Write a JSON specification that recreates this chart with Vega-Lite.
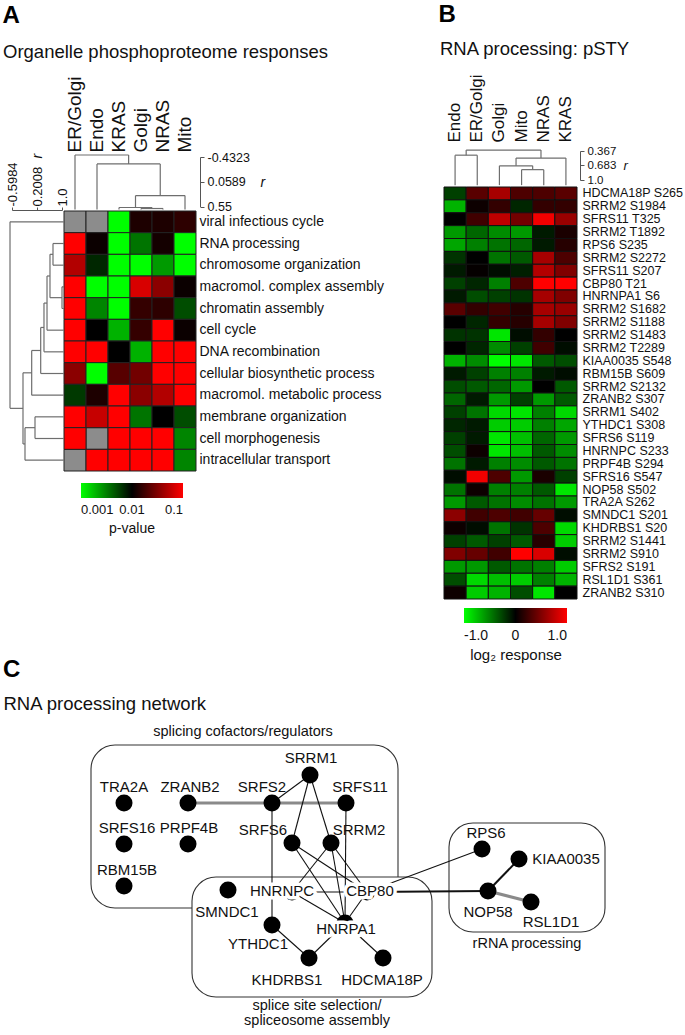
{
"$schema":"https://vega.github.io/schema/vega-lite/v6.json",
"width":685,"height":1035,"autosize":"none","padding":0,"background":"white",
"config":{"view":{"stroke":null},"font":"Liberation Sans",
 "axis":{"grid":false,"labelColor":"#111","titleColor":"#111","domainColor":"#555","tickColor":"#555","labelFlush":false,"labelOverlap":false,"labelBound":false},
 "legend":{"labelColor":"#111","titleColor":"#111"}},
"datasets":{
"heatA":[
{"term":"viral infectious cycle","col":"ER/Golgi","p":null},{"term":"viral infectious cycle","col":"Endo","p":null},{"term":"viral infectious cycle","col":"KRAS","p":0.001},{"term":"viral infectious cycle","col":"Golgi","p":0.013},{"term":"viral infectious cycle","col":"NRAS","p":0.013},{"term":"viral infectious cycle","col":"Mito","p":0.015},
{"term":"RNA processing","col":"ER/Golgi","p":0.1},{"term":"RNA processing","col":"Endo","p":0.011},{"term":"RNA processing","col":"KRAS","p":0.001},{"term":"RNA processing","col":"Golgi","p":0.0035},{"term":"RNA processing","col":"NRAS","p":0.012},{"term":"RNA processing","col":"Mito","p":0.001},
{"term":"chromosome organization","col":"ER/Golgi","p":0.05},{"term":"chromosome organization","col":"Endo","p":0.007},{"term":"chromosome organization","col":"KRAS","p":0.001},{"term":"chromosome organization","col":"Golgi","p":0.001},{"term":"chromosome organization","col":"NRAS","p":0.0025},{"term":"chromosome organization","col":"Mito","p":0.001},
{"term":"macromol. complex assembly","col":"ER/Golgi","p":0.1},{"term":"macromol. complex assembly","col":"Endo","p":0.001},{"term":"macromol. complex assembly","col":"KRAS","p":0.001},{"term":"macromol. complex assembly","col":"Golgi","p":0.07},{"term":"macromol. complex assembly","col":"NRAS","p":0.035},{"term":"macromol. complex assembly","col":"Mito","p":0.011},
{"term":"chromatin assembly","col":"ER/Golgi","p":0.1},{"term":"chromatin assembly","col":"Endo","p":0.003},{"term":"chromatin assembly","col":"KRAS","p":0.001},{"term":"chromatin assembly","col":"Golgi","p":0.016},{"term":"chromatin assembly","col":"NRAS","p":0.015},{"term":"chromatin assembly","col":"Mito","p":0.005},
{"term":"cell cycle","col":"ER/Golgi","p":0.1},{"term":"cell cycle","col":"Endo","p":0.01},{"term":"cell cycle","col":"KRAS","p":0.002},{"term":"cell cycle","col":"Golgi","p":0.016},{"term":"cell cycle","col":"NRAS","p":0.1},{"term":"cell cycle","col":"Mito","p":0.011},
{"term":"DNA recombination","col":"ER/Golgi","p":0.1},{"term":"DNA recombination","col":"Endo","p":0.1},{"term":"DNA recombination","col":"KRAS","p":0.01},{"term":"DNA recombination","col":"Golgi","p":0.002},{"term":"DNA recombination","col":"NRAS","p":0.1},{"term":"DNA recombination","col":"Mito","p":0.1},
{"term":"cellular biosynthetic process","col":"ER/Golgi","p":0.035},{"term":"cellular biosynthetic process","col":"Endo","p":0.001},{"term":"cellular biosynthetic process","col":"KRAS","p":0.022},{"term":"cellular biosynthetic process","col":"Golgi","p":0.028},{"term":"cellular biosynthetic process","col":"NRAS","p":0.1},{"term":"cellular biosynthetic process","col":"Mito","p":0.1},
{"term":"macromol. metabolic process","col":"ER/Golgi","p":0.006},{"term":"macromol. metabolic process","col":"Endo","p":0.013},{"term":"macromol. metabolic process","col":"KRAS","p":0.1},{"term":"macromol. metabolic process","col":"Golgi","p":0.035},{"term":"macromol. metabolic process","col":"NRAS","p":0.05},{"term":"macromol. metabolic process","col":"Mito","p":0.1},
{"term":"membrane organization","col":"ER/Golgi","p":0.1},{"term":"membrane organization","col":"Endo","p":0.06},{"term":"membrane organization","col":"KRAS","p":0.1},{"term":"membrane organization","col":"Golgi","p":0.0035},{"term":"membrane organization","col":"NRAS","p":0.01},{"term":"membrane organization","col":"Mito","p":0.005},
{"term":"cell morphogenesis","col":"ER/Golgi","p":0.1},{"term":"cell morphogenesis","col":"Endo","p":null},{"term":"cell morphogenesis","col":"KRAS","p":0.1},{"term":"cell morphogenesis","col":"Golgi","p":0.1},{"term":"cell morphogenesis","col":"NRAS","p":0.1},{"term":"cell morphogenesis","col":"Mito","p":0.003},
{"term":"intracellular transport","col":"ER/Golgi","p":null},{"term":"intracellular transport","col":"Endo","p":0.1},{"term":"intracellular transport","col":"KRAS","p":0.1},{"term":"intracellular transport","col":"Golgi","p":0.1},{"term":"intracellular transport","col":"NRAS","p":0.1},{"term":"intracellular transport","col":"Mito","p":0.003}
],
"heatB":[
{"site":"HDCMA18P S265","col":"Endo","v":-0.25},{"site":"HDCMA18P S265","col":"ER/Golgi","v":0.35},{"site":"HDCMA18P S265","col":"Golgi","v":0.65},{"site":"HDCMA18P S265","col":"Mito","v":0.3},{"site":"HDCMA18P S265","col":"NRAS","v":0.3},{"site":"HDCMA18P S265","col":"KRAS","v":0.35},
{"site":"SRRM2 S1984","col":"Endo","v":-0.7},{"site":"SRRM2 S1984","col":"ER/Golgi","v":0.05},{"site":"SRRM2 S1984","col":"Golgi","v":0.2},{"site":"SRRM2 S1984","col":"Mito","v":-0.15},{"site":"SRRM2 S1984","col":"NRAS","v":0.2},{"site":"SRRM2 S1984","col":"KRAS","v":0.2},
{"site":"SFRS11 T325","col":"Endo","v":0},{"site":"SFRS11 T325","col":"ER/Golgi","v":0.25},{"site":"SFRS11 T325","col":"Golgi","v":0.75},{"site":"SFRS11 T325","col":"Mito","v":0.45},{"site":"SFRS11 T325","col":"NRAS","v":0.95},{"site":"SFRS11 T325","col":"KRAS","v":0.6},
{"site":"SRRM2 T1892","col":"Endo","v":-0.6},{"site":"SRRM2 T1892","col":"ER/Golgi","v":-0.4},{"site":"SRRM2 T1892","col":"Golgi","v":-0.55},{"site":"SRRM2 T1892","col":"Mito","v":-0.6},{"site":"SRRM2 T1892","col":"NRAS","v":-0.1},{"site":"SRRM2 T1892","col":"KRAS","v":0.1},
{"site":"RPS6 S235","col":"Endo","v":-0.65},{"site":"RPS6 S235","col":"ER/Golgi","v":-0.5},{"site":"RPS6 S235","col":"Golgi","v":-0.45},{"site":"RPS6 S235","col":"Mito","v":-0.4},{"site":"RPS6 S235","col":"NRAS","v":-0.1},{"site":"RPS6 S235","col":"KRAS","v":0.15},
{"site":"SRRM2 S2272","col":"Endo","v":-0.2},{"site":"SRRM2 S2272","col":"ER/Golgi","v":0},{"site":"SRRM2 S2272","col":"Golgi","v":-0.45},{"site":"SRRM2 S2272","col":"Mito","v":-0.35},{"site":"SRRM2 S2272","col":"NRAS","v":0.65},{"site":"SRRM2 S2272","col":"KRAS","v":0.3},
{"site":"SFRS11 S207","col":"Endo","v":-0.1},{"site":"SFRS11 S207","col":"ER/Golgi","v":0.02},{"site":"SFRS11 S207","col":"Golgi","v":-0.05},{"site":"SFRS11 S207","col":"Mito","v":-0.12},{"site":"SFRS11 S207","col":"NRAS","v":0.7},{"site":"SFRS11 S207","col":"KRAS","v":0.5},
{"site":"CBP80 T21","col":"Endo","v":-0.25},{"site":"CBP80 T21","col":"ER/Golgi","v":-0.15},{"site":"CBP80 T21","col":"Golgi","v":-0.5},{"site":"CBP80 T21","col":"Mito","v":0.3},{"site":"CBP80 T21","col":"NRAS","v":1},{"site":"CBP80 T21","col":"KRAS","v":1},
{"site":"HNRNPA1 S6","col":"Endo","v":-0.1},{"site":"HNRNPA1 S6","col":"ER/Golgi","v":-0.3},{"site":"HNRNPA1 S6","col":"Golgi","v":-0.25},{"site":"HNRNPA1 S6","col":"Mito","v":-0.2},{"site":"HNRNPA1 S6","col":"NRAS","v":0.65},{"site":"HNRNPA1 S6","col":"KRAS","v":0.5},
{"site":"SRRM2 S1682","col":"Endo","v":0.35},{"site":"SRRM2 S1682","col":"ER/Golgi","v":0.2},{"site":"SRRM2 S1682","col":"Golgi","v":0.25},{"site":"SRRM2 S1682","col":"Mito","v":0.15},{"site":"SRRM2 S1682","col":"NRAS","v":0.65},{"site":"SRRM2 S1682","col":"KRAS","v":0.6},
{"site":"SRRM2 S1188","col":"Endo","v":0},{"site":"SRRM2 S1188","col":"ER/Golgi","v":-0.15},{"site":"SRRM2 S1188","col":"Golgi","v":0.2},{"site":"SRRM2 S1188","col":"Mito","v":0.15},{"site":"SRRM2 S1188","col":"NRAS","v":0.65},{"site":"SRRM2 S1188","col":"KRAS","v":0.5},
{"site":"SRRM2 S1483","col":"Endo","v":-0.2},{"site":"SRRM2 S1483","col":"ER/Golgi","v":-0.2},{"site":"SRRM2 S1483","col":"Golgi","v":-0.9},{"site":"SRRM2 S1483","col":"Mito","v":-0.05},{"site":"SRRM2 S1483","col":"NRAS","v":0.2},{"site":"SRRM2 S1483","col":"KRAS","v":0},
{"site":"SRRM2 T2289","col":"Endo","v":0},{"site":"SRRM2 T2289","col":"ER/Golgi","v":-0.15},{"site":"SRRM2 T2289","col":"Golgi","v":-0.55},{"site":"SRRM2 T2289","col":"Mito","v":-0.25},{"site":"SRRM2 T2289","col":"NRAS","v":0.25},{"site":"SRRM2 T2289","col":"KRAS","v":-0.05},
{"site":"KIAA0035 S548","col":"Endo","v":-0.7},{"site":"KIAA0035 S548","col":"ER/Golgi","v":-0.55},{"site":"KIAA0035 S548","col":"Golgi","v":-1},{"site":"KIAA0035 S548","col":"Mito","v":-0.9},{"site":"KIAA0035 S548","col":"NRAS","v":-0.35},{"site":"KIAA0035 S548","col":"KRAS","v":-0.3},
{"site":"RBM15B S609","col":"Endo","v":-0.1},{"site":"RBM15B S609","col":"ER/Golgi","v":-0.25},{"site":"RBM15B S609","col":"Golgi","v":-0.5},{"site":"RBM15B S609","col":"Mito","v":-0.5},{"site":"RBM15B S609","col":"NRAS","v":-0.1},{"site":"RBM15B S609","col":"KRAS","v":-0.05},
{"site":"SRRM2 S2132","col":"Endo","v":-0.3},{"site":"SRRM2 S2132","col":"ER/Golgi","v":-0.35},{"site":"SRRM2 S2132","col":"Golgi","v":-0.4},{"site":"SRRM2 S2132","col":"Mito","v":-0.6},{"site":"SRRM2 S2132","col":"NRAS","v":0},{"site":"SRRM2 S2132","col":"KRAS","v":-0.35},
{"site":"ZRANB2 S307","col":"Endo","v":-0.4},{"site":"ZRANB2 S307","col":"ER/Golgi","v":-0.1},{"site":"ZRANB2 S307","col":"Golgi","v":-0.6},{"site":"ZRANB2 S307","col":"Mito","v":-0.25},{"site":"ZRANB2 S307","col":"NRAS","v":-0.6},{"site":"ZRANB2 S307","col":"KRAS","v":-0.35},
{"site":"SRRM1 S402","col":"Endo","v":-0.25},{"site":"SRRM1 S402","col":"ER/Golgi","v":-0.45},{"site":"SRRM1 S402","col":"Golgi","v":-0.85},{"site":"SRRM1 S402","col":"Mito","v":-0.9},{"site":"SRRM1 S402","col":"NRAS","v":-0.5},{"site":"SRRM1 S402","col":"KRAS","v":-0.85},
{"site":"YTHDC1 S308","col":"Endo","v":-0.15},{"site":"YTHDC1 S308","col":"ER/Golgi","v":-0.1},{"site":"YTHDC1 S308","col":"Golgi","v":-0.8},{"site":"YTHDC1 S308","col":"Mito","v":-0.8},{"site":"YTHDC1 S308","col":"NRAS","v":-0.5},{"site":"YTHDC1 S308","col":"KRAS","v":-0.65},
{"site":"SFRS6 S119","col":"Endo","v":-0.25},{"site":"SFRS6 S119","col":"ER/Golgi","v":-0.1},{"site":"SFRS6 S119","col":"Golgi","v":-0.9},{"site":"SFRS6 S119","col":"Mito","v":-0.75},{"site":"SFRS6 S119","col":"NRAS","v":-0.4},{"site":"SFRS6 S119","col":"KRAS","v":-0.6},
{"site":"HNRNPC S233","col":"Endo","v":-0.3},{"site":"HNRNPC S233","col":"ER/Golgi","v":0.05},{"site":"HNRNPC S233","col":"Golgi","v":-0.9},{"site":"HNRNPC S233","col":"Mito","v":-0.75},{"site":"HNRNPC S233","col":"NRAS","v":-0.35},{"site":"HNRNPC S233","col":"KRAS","v":-0.55},
{"site":"PRPF4B S294","col":"Endo","v":-0.45},{"site":"PRPF4B S294","col":"ER/Golgi","v":-0.1},{"site":"PRPF4B S294","col":"Golgi","v":-0.5},{"site":"PRPF4B S294","col":"Mito","v":-0.55},{"site":"PRPF4B S294","col":"NRAS","v":-0.35},{"site":"PRPF4B S294","col":"KRAS","v":-0.45},
{"site":"SFRS16 S547","col":"Endo","v":-0.05},{"site":"SFRS16 S547","col":"ER/Golgi","v":0.95},{"site":"SFRS16 S547","col":"Golgi","v":0.3},{"site":"SFRS16 S547","col":"Mito","v":-0.6},{"site":"SFRS16 S547","col":"NRAS","v":0.1},{"site":"SFRS16 S547","col":"KRAS","v":-0.25},
{"site":"NOP58 S502","col":"Endo","v":-0.45},{"site":"NOP58 S502","col":"ER/Golgi","v":0.05},{"site":"NOP58 S502","col":"Golgi","v":-0.5},{"site":"NOP58 S502","col":"Mito","v":-0.5},{"site":"NOP58 S502","col":"NRAS","v":-0.35},{"site":"NOP58 S502","col":"KRAS","v":-0.9},
{"site":"TRA2A S262","col":"Endo","v":-0.6},{"site":"TRA2A S262","col":"ER/Golgi","v":-0.35},{"site":"TRA2A S262","col":"Golgi","v":-0.45},{"site":"TRA2A S262","col":"Mito","v":-0.55},{"site":"TRA2A S262","col":"NRAS","v":-0.45},{"site":"TRA2A S262","col":"KRAS","v":-0.6},
{"site":"SMNDC1 S201","col":"Endo","v":0.55},{"site":"SMNDC1 S201","col":"ER/Golgi","v":0.25},{"site":"SMNDC1 S201","col":"Golgi","v":0.3},{"site":"SMNDC1 S201","col":"Mito","v":0.25},{"site":"SMNDC1 S201","col":"NRAS","v":0.4},{"site":"SMNDC1 S201","col":"KRAS","v":-0.05},
{"site":"KHDRBS1 S20","col":"Endo","v":0.05},{"site":"KHDRBS1 S20","col":"ER/Golgi","v":-0.05},{"site":"KHDRBS1 S20","col":"Golgi","v":-0.45},{"site":"KHDRBS1 S20","col":"Mito","v":-0.2},{"site":"KHDRBS1 S20","col":"NRAS","v":0.3},{"site":"KHDRBS1 S20","col":"KRAS","v":-0.85},
{"site":"SRRM2 S1441","col":"Endo","v":-0.25},{"site":"SRRM2 S1441","col":"ER/Golgi","v":-0.35},{"site":"SRRM2 S1441","col":"Golgi","v":-0.25},{"site":"SRRM2 S1441","col":"Mito","v":-0.35},{"site":"SRRM2 S1441","col":"NRAS","v":0.15},{"site":"SRRM2 S1441","col":"KRAS","v":-0.8},
{"site":"SRRM2 S910","col":"Endo","v":0.5},{"site":"SRRM2 S910","col":"ER/Golgi","v":0.4},{"site":"SRRM2 S910","col":"Golgi","v":0.25},{"site":"SRRM2 S910","col":"Mito","v":1},{"site":"SRRM2 S910","col":"NRAS","v":0.85},{"site":"SRRM2 S910","col":"KRAS","v":-0.05},
{"site":"SFRS2 S191","col":"Endo","v":-0.6},{"site":"SFRS2 S191","col":"ER/Golgi","v":-0.6},{"site":"SFRS2 S191","col":"Golgi","v":-0.35},{"site":"SFRS2 S191","col":"Mito","v":-0.45},{"site":"SFRS2 S191","col":"NRAS","v":-0.5},{"site":"SFRS2 S191","col":"KRAS","v":-0.8},
{"site":"RSL1D1 S361","col":"Endo","v":-0.3},{"site":"RSL1D1 S361","col":"ER/Golgi","v":-0.85},{"site":"RSL1D1 S361","col":"Golgi","v":-0.75},{"site":"RSL1D1 S361","col":"Mito","v":-0.8},{"site":"RSL1D1 S361","col":"NRAS","v":-0.5},{"site":"RSL1D1 S361","col":"KRAS","v":-0.7},
{"site":"ZRANB2 S310","col":"Endo","v":0.05},{"site":"ZRANB2 S310","col":"ER/Golgi","v":-0.8},{"site":"ZRANB2 S310","col":"Golgi","v":-0.7},{"site":"ZRANB2 S310","col":"Mito","v":-0.3},{"site":"ZRANB2 S310","col":"NRAS","v":-0.9},{"site":"ZRANB2 S310","col":"KRAS","v":0}
],
"colDendA":[
{"p1":3,"p2":3,"h1":0.609,"h2":0.59},{"p1":4,"p2":4,"h1":0.609,"h2":0.59},{"p1":3,"p2":4,"h1":0.59,"h2":0.59},
{"p1":2,"p2":2,"h1":0.609,"h2":0.57},{"p1":3.5,"p2":3.5,"h1":0.59,"h2":0.57},{"p1":2,"p2":3.5,"h1":0.57,"h2":0.57},
{"p1":2.75,"p2":2.75,"h1":0.57,"h2":0.334},{"p1":5,"p2":5,"h1":0.609,"h2":0.334},{"p1":2.75,"p2":5,"h1":0.334,"h2":0.334},
{"p1":1,"p2":1,"h1":0.609,"h2":-0.295},{"p1":3.875,"p2":3.875,"h1":0.334,"h2":-0.295},{"p1":1,"p2":3.875,"h1":-0.295,"h2":-0.295},
{"p1":0,"p2":0,"h1":0.609,"h2":-0.472},{"p1":2.4375,"p2":2.4375,"h1":-0.295,"h2":-0.472},{"p1":0,"p2":2.4375,"h1":-0.472,"h2":-0.472}
],
"colDendB":[
{"p1":3,"p2":3,"h1":1.112,"h2":0.774},{"p1":4,"p2":4,"h1":1.112,"h2":0.774},{"p1":3,"p2":4,"h1":0.774,"h2":0.774},
{"p1":2,"p2":2,"h1":1.112,"h2":0.69},{"p1":3.5,"p2":3.5,"h1":0.774,"h2":0.69},{"p1":2,"p2":3.5,"h1":0.69,"h2":0.69},
{"p1":2.75,"p2":2.75,"h1":0.69,"h2":0.521},{"p1":5,"p2":5,"h1":1.112,"h2":0.521},{"p1":2.75,"p2":5,"h1":0.521,"h2":0.521},
{"p1":0,"p2":0,"h1":1.112,"h2":0.458},{"p1":1,"p2":1,"h1":1.112,"h2":0.458},{"p1":0,"p2":1,"h1":0.458,"h2":0.458},
{"p1":0.5,"p2":0.5,"h1":0.458,"h2":0.346},{"p1":3.875,"p2":3.875,"h1":0.521,"h2":0.346},{"p1":0.5,"p2":3.875,"h1":0.346,"h2":0.346}
],
"rowDendA":[
{"h1":1.06,"h2":1.0,"p1":3,"p2":3},{"h1":1.06,"h2":1.0,"p1":4,"p2":4},{"h1":1.0,"h2":1.0,"p1":3,"p2":4},
{"h1":1.06,"h2":0.712,"p1":1,"p2":1},{"h1":1.06,"h2":0.712,"p1":2,"p2":2},{"h1":0.712,"h2":0.712,"p1":1,"p2":2},
{"h1":0.712,"h2":0.616,"p1":1.5,"p2":1.5},{"h1":1.0,"h2":0.616,"p1":3.5,"p2":3.5},{"h1":0.616,"h2":0.616,"p1":1.5,"p2":3.5},
{"h1":0.616,"h2":0.521,"p1":2.5,"p2":2.5},{"h1":1.06,"h2":0.521,"p1":5,"p2":5},{"h1":0.521,"h2":0.521,"p1":2.5,"p2":5},
{"h1":0.521,"h2":0.424,"p1":3.75,"p2":3.75},{"h1":1.06,"h2":0.424,"p1":6,"p2":6},{"h1":0.424,"h2":0.424,"p1":3.75,"p2":6},
{"h1":0.424,"h2":0.319,"p1":4.875,"p2":4.875},{"h1":1.06,"h2":0.319,"p1":7,"p2":7},{"h1":0.319,"h2":0.319,"p1":4.875,"p2":7},
{"h1":0.319,"h2":0.031,"p1":5.9375,"p2":5.9375},{"h1":1.06,"h2":0.031,"p1":8,"p2":8},{"h1":0.031,"h2":0.031,"p1":5.9375,"p2":8},
{"h1":1.06,"h2":0.137,"p1":9,"p2":9},{"h1":1.06,"h2":0.137,"p1":10,"p2":10},{"h1":0.137,"h2":0.137,"p1":9,"p2":10},
{"h1":0.137,"h2":-0.183,"p1":9.5,"p2":9.5},{"h1":1.06,"h2":-0.183,"p1":11,"p2":11},{"h1":-0.183,"h2":-0.183,"p1":9.5,"p2":11},
{"h1":0.031,"h2":-0.247,"p1":6.96875,"p2":6.96875},{"h1":-0.183,"h2":-0.247,"p1":10.25,"p2":10.25},{"h1":-0.247,"h2":-0.247,"p1":6.96875,"p2":10.25},
{"h1":1.06,"h2":-0.662,"p1":0,"p2":0},{"h1":-0.247,"h2":-0.662,"p1":8.609,"p2":8.609},{"h1":-0.662,"h2":-0.662,"p1":0,"p2":8.609}
],
"nodes":[
{"name":"SRRM1","nx":31.0,"ny":77.5,"lx":31.1,"ly":75.8},
{"name":"TRA2A","nx":12.4,"ny":80.3,"lx":12.4,"ly":78.7},
{"name":"ZRANB2","nx":18.8,"ny":80.3,"lx":19.0,"ly":78.7},
{"name":"SRFS2","nx":27.2,"ny":80.3,"lx":26.2,"ly":78.7},
{"name":"SRFS11","nx":34.6,"ny":80.3,"lx":36.0,"ly":78.7},
{"name":"SRFS16","nx":12.4,"ny":84.4,"lx":12.7,"ly":82.8},
{"name":"PRPF4B","nx":18.8,"ny":84.4,"lx":18.9,"ly":82.8},
{"name":"SRFS6","nx":29.2,"ny":84.3,"lx":26.3,"ly":83.0},
{"name":"SRRM2","nx":33.1,"ny":84.3,"lx":35.9,"ly":83.0},
{"name":"RBM15B","nx":12.4,"ny":88.6,"lx":12.7,"ly":87.0},
{"name":"SMNDC1","nx":22.8,"ny":89.0,"lx":22.7,"ly":91.2},
{"name":"HNRNPC","nx":29.2,"ny":89.2,"lx":28.2,"ly":89.1},
{"name":"CBP80","nx":36.7,"ny":89.2,"lx":37.0,"ly":89.1},
{"name":"YTHDC1","nx":27.2,"ny":92.5,"lx":25.8,"ly":94.4},
{"name":"HNRPA1","nx":34.5,"ny":92.3,"lx":34.6,"ly":92.9},
{"name":"KHDRBS1","nx":30.9,"ny":95.8,"lx":28.7,"ly":98.0},
{"name":"HDCMA18P","nx":38.3,"ny":95.8,"lx":38.2,"ly":98.0},
{"name":"RPS6","nx":48.2,"ny":84.9,"lx":48.6,"ly":83.3},
{"name":"KIAA0035","nx":51.9,"ny":85.9,"lx":56.6,"ly":85.9},
{"name":"NOP58","nx":48.8,"ny":89.1,"lx":48.8,"ly":91.2},
{"name":"RSL1D1","nx":53.1,"ny":90.2,"lx":55.1,"ly":92.2}
],
"edges":[
{"source":"ZRANB2","target":"SRFS2","evidence":"coexpression"},
{"source":"SRFS2","target":"SRFS11","evidence":"coexpression"},
{"source":"NOP58","target":"RSL1D1","evidence":"coexpression"},
{"source":"CBP80","target":"NOP58","evidence":"database"},
{"source":"NOP58","target":"KIAA0035","evidence":"database"},
{"source":"SRFS2","target":"SRRM1","evidence":"experimental"},
{"source":"SRFS2","target":"YTHDC1","evidence":"experimental"},
{"source":"SRRM1","target":"SRFS6","evidence":"experimental"},
{"source":"SRRM1","target":"SRRM2","evidence":"experimental"},
{"source":"SRFS11","target":"HNRPA1","evidence":"experimental"},
{"source":"SRFS6","target":"CBP80","evidence":"experimental"},
{"source":"SRFS6","target":"HNRPA1","evidence":"experimental"},
{"source":"SRRM2","target":"HNRNPC","evidence":"experimental"},
{"source":"SRRM2","target":"CBP80","evidence":"experimental"},
{"source":"SRRM2","target":"HNRPA1","evidence":"experimental"},
{"source":"HNRNPC","target":"CBP80","evidence":"experimental"},
{"source":"HNRNPC","target":"HNRPA1","evidence":"experimental"},
{"source":"CBP80","target":"HNRPA1","evidence":"experimental"},
{"source":"CBP80","target":"RPS6","evidence":"experimental"},
{"source":"YTHDC1","target":"KHDRBS1","evidence":"experimental"},
{"source":"KHDRBS1","target":"HNRPA1","evidence":"experimental"},
{"source":"HNRPA1","target":"HDCMA18P","evidence":"experimental"}
],
"boxes":[
{"group":"splicing","x1":9.1,"x2":39.8,"y1":74.5,"y2":90.8,"label":"splicing cofactors/regulators","tx":24.3,"ty":73.6},
{"group":"splice site","x1":19.2,"x2":43.2,"y1":87.7,"y2":99.7,"label":"splice site selection/|spliceosome assembly","tx":31.7,"ty":101.0},
{"group":"rRNA","x1":44.9,"x2":60.5,"y1":82.3,"y2":93.2,"label":"rRNA processing","tx":52.7,"ty":94.8}
],
"letters":[
{"text":"A","x":0.25,"y":2.3},{"text":"B","x":43.85,"y":2.2},{"text":"C","x":0.3,"y":67.7}
],
"headings":[
{"text":"Organelle phosphoproteome responses","x":0.3,"y":5.8},
{"text":"RNA processing: pSTY","x":44.0,"y":5.5},
{"text":"RNA processing network","x":0.35,"y":71.0}
]
},
"layer":[
{
 "data":{"name":"heatA"},
 "encoding":{
  "x":{"field":"col","type":"nominal","scale":{"domain":["ER/Golgi","Endo","KRAS","Golgi","NRAS","Mito"],"range":[64,196],"paddingInner":0,"paddingOuter":0},
       "axis":{"orient":"top","offset":-153,"labelAngle":-90,"labelFontSize":19,"labelPadding":1,"domain":false,"ticks":false,"title":null}},
  "y":{"field":"term","type":"nominal","scale":{"domain":["viral infectious cycle","RNA processing","chromosome organization","macromol. complex assembly","chromatin assembly","cell cycle","DNA recombination","cellular biosynthetic process","macromol. metabolic process","membrane organization","cell morphogenesis","intracellular transport"],"range":[211,471],"paddingInner":0,"paddingOuter":0},
       "axis":{"orient":"right","offset":-489,"labelFontSize":14,"labelPadding":3,"labelLimit":0,"domain":false,"ticks":false,"title":null}}
 },
 "layer":[
  {"transform":[{"filter":"datum.p == null"}],"mark":{"type":"rect","fill":"#8c8c8c","stroke":"#222","strokeWidth":1}},
  {"transform":[{"filter":"datum.p != null"}],"mark":{"type":"rect","stroke":"#222","strokeWidth":1},
   "encoding":{"color":{"field":"p","type":"quantitative",
     "scale":{"type":"log","domain":[0.001,0.01,0.1],"range":["#00ff00","#000000","#ff0000"],"interpolate":"rgb","clamp":true},
     "legend":{"orient":"none","legendX":81,"legendY":483,"direction":"horizontal","gradientLength":102,"gradientThickness":15,
       "values":[0.001,0.01,0.1],"labelExpr":"datum.value < 0.005 ? '0.001' : (datum.value < 0.05 ? '0.01' : '0.1')",
       "labelFontSize":13,"labelOffset":6,"title":"p-value","titleOrient":"bottom","titleAnchor":"middle","titleFontSize":14,"titleFontWeight":"normal","titlePadding":5}}}}
 ]
},
{
 "data":{"name":"heatB"},
 "mark":{"type":"rect","stroke":"#111","strokeWidth":1},
 "encoding":{
  "x":{"field":"col","type":"nominal","scale":{"domain":["Endo","ER/Golgi","Golgi","Mito","NRAS","KRAS"],"range":[444,577],"paddingInner":0,"paddingOuter":0},
       "axis":{"orient":"top","offset":-143,"labelAngle":-90,"labelFontSize":17,"labelPadding":1,"domain":false,"ticks":false,"title":null}},
  "y":{"field":"site","type":"nominal","scale":{"domain":["HDCMA18P S265","SRRM2 S1984","SFRS11 T325","SRRM2 T1892","RPS6 S235","SRRM2 S2272","SFRS11 S207","CBP80 T21","HNRNPA1 S6","SRRM2 S1682","SRRM2 S1188","SRRM2 S1483","SRRM2 T2289","KIAA0035 S548","RBM15B S609","SRRM2 S2132","ZRANB2 S307","SRRM1 S402","YTHDC1 S308","SFRS6 S119","HNRNPC S233","PRPF4B S294","SFRS16 S547","NOP58 S502","TRA2A S262","SMNDC1 S201","KHDRBS1 S20","SRRM2 S1441","SRRM2 S910","SFRS2 S191","RSL1D1 S361","ZRANB2 S310"],"range":[187,599],"paddingInner":0,"paddingOuter":0},
       "axis":{"orient":"right","offset":-108,"labelFontSize":12.5,"labelPadding":5,"labelLimit":0,"domain":false,"ticks":false,"title":null}},
  "color":{"field":"v","type":"quantitative",
     "scale":{"domain":[-1,0,1],"range":["#00ff00","#000000","#ff0000"],"interpolate":"rgb","clamp":true},
     "legend":{"orient":"none","legendX":464,"legendY":608,"direction":"horizontal","gradientLength":103,"gradientThickness":15,
       "values":[-1,0,1],"labelExpr":"datum.value == 0 ? '0' : (datum.value < 0 ? '-1.0' : '1.0')",
       "labelFontSize":14,"labelOffset":6,"title":"log₂ response","titleOrient":"bottom","titleAnchor":"middle","titleFontSize":15,"titleFontWeight":"normal","titlePadding":5}}
 }
},
{
 "data":{"name":"colDendA"},
 "mark":{"type":"rule","stroke":"#6e6e6e","strokeWidth":1.2},
 "encoding":{
  "x":{"field":"p1","type":"quantitative","scale":{"domain":[-0.5,5.5],"range":[64,196],"zero":false,"nice":false},"axis":null},
  "x2":{"field":"p2"},
  "y":{"field":"h1","type":"quantitative","scale":{"domain":[-0.4323,0.55],"range":[157,206.5],"zero":false,"nice":false},
       "axis":{"orient":"right","offset":-485,"values":[-0.4323,0.0589,0.55],"labelExpr":"datum.value > 0.5 ? '0.55' : (datum.value > 0 ? '0.0589' : '-0.4323')",
         "labelFontSize":12.5,"labelPadding":3,"tickSize":4,"domain":true,"title":"r","titleAngle":0,"titleFontStyle":"italic","titleFontWeight":"normal","titleFontSize":14,"titleX":60,"titleY":182,"titleAlign":"left","titleBaseline":"middle"}},
  "y2":{"field":"h2"}
 }
},
{
 "data":{"name":"colDendB"},
 "mark":{"type":"rule","stroke":"#6e6e6e","strokeWidth":1.2},
 "encoding":{
  "x":{"field":"p1","type":"quantitative","scale":{"domain":[-0.5,5.5],"range":[444,577],"zero":false,"nice":false},"axis":null},
  "x2":{"field":"p2"},
  "y":{"field":"h1","type":"quantitative","scale":{"domain":[0.367,1.0],"range":[151,180],"zero":false,"nice":false},
       "axis":{"orient":"right","offset":-105,"values":[0.367,0.683,1.0],"labelExpr":"datum.value > 0.9 ? '1.0' : (datum.value > 0.5 ? '0.683' : '0.367')",
         "labelFontSize":11.5,"labelPadding":3,"tickSize":4,"domain":true,"title":"r","titleAngle":0,"titleFontStyle":"italic","titleFontWeight":"normal","titleFontSize":13,"titleX":43,"titleY":165,"titleAlign":"left","titleBaseline":"middle"}},
  "y2":{"field":"h2"}
 }
},
{
 "data":{"name":"rowDendA"},
 "mark":{"type":"rule","stroke":"#6e6e6e","strokeWidth":1.2},
 "encoding":{
  "x":{"field":"h1","type":"quantitative","scale":{"domain":[-0.5984,1.0],"range":[12,62],"zero":false,"nice":false},
       "axis":{"orient":"top","offset":-210,"values":[-0.5984,0.2008,1.0],"labelExpr":"datum.value > 0.5 ? '1.0' : (datum.value > 0 ? '0.2008' : '-0.5984')",
         "labelAngle":-90,"labelFontSize":13,"labelPadding":1,"tickSize":3,"domain":true,"title":"r","titleAngle":-90,"titleFontStyle":"italic","titleFontWeight":"normal","titleFontSize":14,"titleX":37,"titleY":-52,"titleAlign":"left","titleBaseline":"middle"}},
  "x2":{"field":"h2"},
  "y":{"field":"p1","type":"quantitative","scale":{"domain":[-0.5,11.5],"range":[211,471],"zero":false,"nice":false},"axis":null},
  "y2":{"field":"p2"}
 }
},
{
 "layer":[
  {"data":{"name":"boxes"},
   "mark":{"type":"rect","fill":"white","stroke":"#333","strokeWidth":1.1,"cornerRadius":24},
   "encoding":{
    "x":{"field":"x1","type":"quantitative","scale":{"domain":[0,68.5],"range":[0,685],"zero":false,"nice":false},"axis":null},
    "x2":{"field":"x2"},
    "y":{"field":"y1","type":"quantitative","scale":{"domain":[0,103.5],"range":[0,1035],"zero":false,"nice":false},"axis":null},
    "y2":{"field":"y2"}}},
  {"data":{"name":"boxes"},
   "mark":{"type":"text","fontSize":14.5,"align":"center","baseline":"alphabetic","lineBreak":"|","lineHeight":15,"fill":"#111"},
   "encoding":{
    "x":{"field":"tx","type":"quantitative","scale":{"domain":[0,68.5],"range":[0,685],"zero":false,"nice":false},"axis":null},
    "y":{"field":"ty","type":"quantitative","scale":{"domain":[0,103.5],"range":[0,1035],"zero":false,"nice":false},"axis":null},
    "text":{"field":"label"}}},
  {"data":{"name":"edges"},
   "transform":[
    {"lookup":"source","from":{"data":{"name":"nodes"},"key":"name","fields":["nx","ny"]},"as":["sx","sy"]},
    {"lookup":"target","from":{"data":{"name":"nodes"},"key":"name","fields":["nx","ny"]},"as":["ex","ey"]}],
   "mark":{"type":"rule"},
   "encoding":{
    "x":{"field":"sx","type":"quantitative","scale":{"domain":[0,68.5],"range":[0,685],"zero":false,"nice":false},"axis":null},
    "x2":{"field":"ex"},
    "y":{"field":"sy","type":"quantitative","scale":{"domain":[0,103.5],"range":[0,1035],"zero":false,"nice":false},"axis":null},
    "y2":{"field":"ey"},
    "stroke":{"field":"evidence","type":"nominal","scale":{"domain":["experimental","database","coexpression"],"range":["#111111","#111111","#8a8a8a"]},"legend":null},
    "strokeWidth":{"field":"evidence","type":"ordinal","scale":{"domain":["experimental","database","coexpression"],"range":[1.1,3]},"legend":null}}},
  {"data":{"name":"nodes"},
   "mark":{"type":"circle","size":290,"opacity":1,"color":"#000000"},
   "encoding":{
    "x":{"field":"nx","type":"quantitative","scale":{"domain":[0,68.5],"range":[0,685],"zero":false,"nice":false},"axis":null},
    "y":{"field":"ny","type":"quantitative","scale":{"domain":[0,103.5],"range":[0,1035],"zero":false,"nice":false},"axis":null}}},
  {"data":{"name":"nodes"},
   "transform":[{"filter":"indexof(['HNRNPC','CBP80','HNRPA1'], datum.name) >= 0"}],
   "mark":{"type":"text","fontSize":15,"align":"center","baseline":"middle","fill":"white","stroke":"white","strokeWidth":7,"strokeJoin":"round"},
   "encoding":{
    "x":{"field":"lx","type":"quantitative","scale":{"domain":[0,68.5],"range":[0,685],"zero":false,"nice":false},"axis":null},
    "y":{"field":"ly","type":"quantitative","scale":{"domain":[0,103.5],"range":[0,1035],"zero":false,"nice":false},"axis":null},
    "text":{"field":"name"}}},
  {"data":{"name":"nodes"},
   "mark":{"type":"text","fontSize":15,"align":"center","baseline":"middle","fill":"#111"},
   "encoding":{
    "x":{"field":"lx","type":"quantitative","scale":{"domain":[0,68.5],"range":[0,685],"zero":false,"nice":false},"axis":null},
    "y":{"field":"ly","type":"quantitative","scale":{"domain":[0,103.5],"range":[0,1035],"zero":false,"nice":false},"axis":null},
    "text":{"field":"name"}}},
  {"data":{"name":"letters"},
   "mark":{"type":"text","fontSize":24,"fontWeight":"bold","align":"left","baseline":"alphabetic","fill":"#000"},
   "encoding":{
    "x":{"field":"x","type":"quantitative","scale":{"domain":[0,68.5],"range":[0,685],"zero":false,"nice":false},"axis":null},
    "y":{"field":"y","type":"quantitative","scale":{"domain":[0,103.5],"range":[0,1035],"zero":false,"nice":false},"axis":null},
    "text":{"field":"text"}}},
  {"data":{"name":"headings"},
   "mark":{"type":"text","fontSize":18.5,"align":"left","baseline":"alphabetic","fill":"#111"},
   "encoding":{
    "x":{"field":"x","type":"quantitative","scale":{"domain":[0,68.5],"range":[0,685],"zero":false,"nice":false},"axis":null},
    "y":{"field":"y","type":"quantitative","scale":{"domain":[0,103.5],"range":[0,1035],"zero":false,"nice":false},"axis":null},
    "text":{"field":"text"}}}
 ]
}
],
"resolve":{"scale":{"x":"independent","y":"independent","color":"independent","stroke":"independent","strokeWidth":"independent"},
           "axis":{"x":"independent","y":"independent"},
           "legend":{"color":"independent"}}
}
